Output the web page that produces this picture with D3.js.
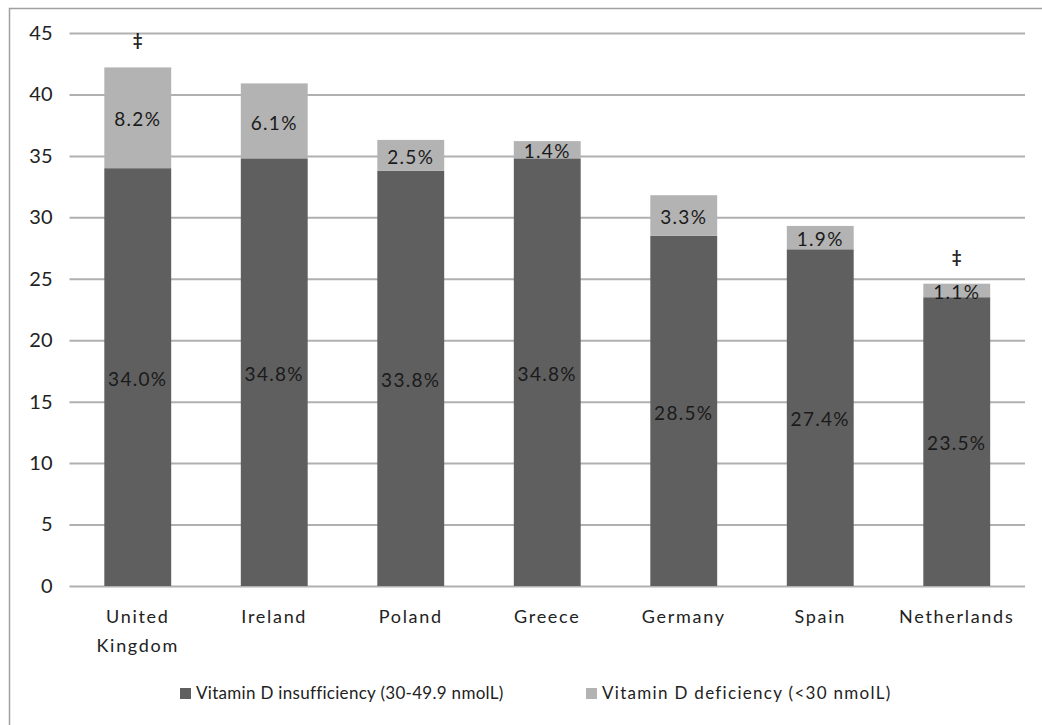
<!DOCTYPE html>
<html><head><meta charset="utf-8">
<script src="https://cdn.jsdelivr.net/npm/d3@7"></script>
<style>body{margin:0;background:#fff;} svg{display:block;} text{font-family:Lato,"Open Sans",sans-serif;}</style>
</head><body>
<svg id="chart" width="1042" height="725"></svg>
<script>
const categories = ["United Kingdom","Ireland","Poland","Greece","Germany","Spain","Netherlands"];
const insufficiency = [34.0, 34.8, 33.8, 34.8, 28.5, 27.4, 23.5];
const deficiency = [8.2, 6.1, 2.5, 1.4, 3.3, 1.9, 1.1];
const markers = ["‡","","","","","","‡"];
const yTicks = [0,5,10,15,20,25,30,35,40,45];
const seriesNames = ["Vitamin D insufficiency (30-49.9 nmolL)","Vitamin D deficiency (<30 nmolL)"];
const colors = ["#5f5f5f","#b3b3b3"];

const svg = d3.select("#chart");
svg.append("rect").attr("x",9.5).attr("y",8.5).attr("width",1060).attr("height",740)
  .attr("fill","none").attr("stroke","#a0a0a0").attr("stroke-width",1.5);

const x = d3.scaleBand().domain(categories).range([69.5,1025]).paddingInner(0.51).paddingOuter(0.255);
const y = d3.scaleLinear().domain([0,45]).range([586,33]);

// gridlines
const yAxis = svg.append("g").attr("transform","translate(69.5,0)")
  .call(d3.axisLeft(y).tickValues(yTicks).tickSize(-955.5).tickPadding(17));
yAxis.select(".domain").remove();
yAxis.selectAll(".tick line").attr("stroke","#b0b0b0").attr("stroke-width",2);
yAxis.selectAll(".tick text").attr("font-size",20).attr("fill","#222").attr("font-family","Lato");

const stack = d3.stack().keys([0,1]).value((d,k)=>d[k]);
const rows = categories.map((c,i)=>[insufficiency[i],deficiency[i]]);
const layers = stack(rows);

layers.forEach((layer,k)=>{
  svg.append("g").selectAll("rect").data(layer).join("rect")
    .attr("x",(d,i)=>x(categories[i]))
    .attr("width",x.bandwidth())
    .attr("y",d=>y(d[1]))
    .attr("height",d=>y(d[0])-y(d[1]))
    .attr("fill",colors[k]);
});
layers.forEach((layer,k)=>{
  svg.append("g").selectAll("text").data(layer).join("text")
    .attr("x",(d,i)=>x(categories[i])+x.bandwidth()/2)
    .attr("y",d=>y((d[0]+d[1])/2)+2)
    .attr("dy","0.35em")
    .attr("text-anchor","middle")
    .attr("font-size",19).attr("letter-spacing",1.3)
    .attr("fill","#1a1a1a")
    .text((d,i)=>(k===0?insufficiency[i]:deficiency[i]).toFixed(1)+"%");
});
// markers
svg.append("g").selectAll("text").data(categories).join("text")
  .attr("x",c=>x(c)+x.bandwidth()/2)
  .attr("y",(c,i)=>y(insufficiency[i]+deficiency[i])-21)
  .attr("text-anchor","middle").attr("font-size",17).attr("font-weight","bold").attr("fill","#222")
  .text((c,i)=>markers[i]);

// category labels
const xl = svg.append("g").selectAll("text").data(categories).join("text")
  .attr("x",c=>x(c)+x.bandwidth()/2)
  .attr("y",623)
  .attr("text-anchor","middle").attr("font-size",18).attr("letter-spacing",1.7).attr("fill","#222");
xl.each(function(c){
  const words = c==="United Kingdom" ? ["United","Kingdom"] : [c];
  const t = d3.select(this);
  words.forEach((w,j)=>t.append("tspan").attr("x",t.attr("x")).attr("dy",j===0?0:29).text(w));
});

// legend
const legX = [180,586];
const legSpacing = [0.3,1.3];
seriesNames.forEach((n,k)=>{
  svg.append("rect").attr("x",legX[k]).attr("y",688).attr("width",11).attr("height",11).attr("fill",colors[k]);
  svg.append("text").attr("x",legX[k]+16).attr("y",693).attr("dy","0.35em")
    .attr("font-size",17).attr("letter-spacing",legSpacing[k]).attr("fill","#222").text(n);
});
</script>
</body></html>
